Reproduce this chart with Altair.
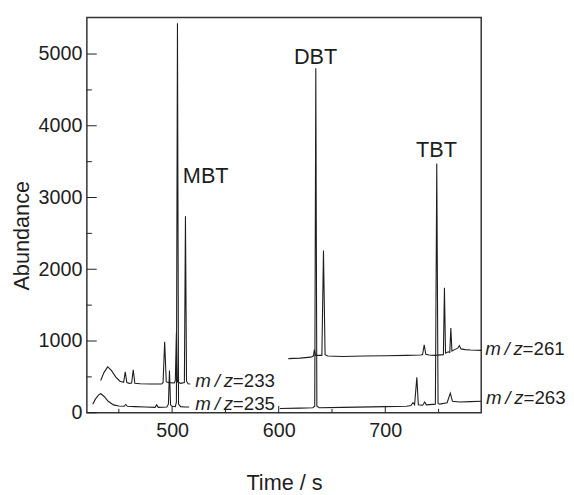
import altair as alt
import pandas as pd

# ---- data ----
t233 = [433, 436, 439.5, 443, 447, 451, 454.5, 456, 457.5, 460, 462, 463.5, 465, 470, 480, 490, 491.5, 493, 494.5, 497, 502, 503, 504, 505, 508, 511.5, 512.5, 513.5, 515, 517]
a233 = [450, 560, 640, 590, 500, 440, 425, 570, 420, 410, 415, 600, 410, 405, 400, 400, 420, 990, 430, 420, 415, 450, 1120, 430, 410, 420, 2740, 440, 405, 400]

t235 = [425.5, 428, 431, 433, 436, 440, 445, 450, 455, 456.5, 458, 465, 475, 484, 485.5, 487, 495, 496.5, 497.5, 498.5, 500, 503, 504, 505, 506, 508, 512, 516]
a235 = [120, 190, 250, 265, 230, 160, 110, 95, 90, 115, 90, 85, 80, 75, 110, 75, 80, 120, 590, 110, 90, 85, 150, 5430, 120, 85, 80, 80]

t261 = [609, 620, 630, 632.5, 633.5, 634.5, 640.5, 642, 643.5, 646, 660, 680, 700, 720, 733, 735, 736.5, 738, 741, 746, 754.5, 755.5, 756.5, 759, 760.5, 761.5, 762.5, 765, 768, 769.5, 771, 775, 780, 790]
a261 = [755, 762, 775, 790, 880, 800, 800, 2260, 810, 790, 785, 790, 795, 800, 805, 810, 946, 815, 805, 800, 810, 1742, 830, 850, 840, 1180, 860, 880, 900, 937, 890, 880, 875, 870]

t263 = [601, 620, 632, 633.8, 634.8, 635.8, 638, 660, 700, 720, 724, 726, 727.5, 729.6, 731, 735, 737, 738.5, 747, 748.3, 749.5, 751, 758, 761, 763, 770, 780, 790]
a263 = [60, 65, 70, 90, 4800, 90, 70, 75, 85, 90, 100, 140, 110, 494, 110, 105, 150, 110, 120, 3475, 130, 120, 140, 274, 160, 150, 155, 160]

peak_names = ["MBT", "DBT", "TBT"]
peak_t = [531.5, 634.6, 748]
peak_a = [3196, 4856, 3567]

ion_names = ["=233", "=235", "=261", "=263"]
ion_t = [521.8, 521.8, 793.7, 794.5]
ion_a = [440, 123, 892, 206]

y_major = [0, 1000, 2000, 3000, 4000, 5000]
y_minor = [500, 1500, 2500, 3500, 4500]
x_major = [500, 600, 700]
x_minor = [450, 550, 650, 750]

X_DOM = [420, 790]
Y_DOM = [0, 5510]
W, H = 400, 401
FONT = "Liberation Sans"
INK = "#1e1e1e"

rows = []
for name, ts, As in [("233", t233, a233), ("235", t235, a235), ("261", t261, a261), ("263", t263, a263)]:
    for t, a in zip(ts, As):
        rows.append({"ion": name, "t": t, "a": a})
traces = pd.DataFrame(rows)

xs = alt.Scale(domain=X_DOM, nice=False, zero=False)
ys = alt.Scale(domain=Y_DOM, nice=False, zero=False)

base_x = alt.X("t:Q", scale=xs, title="Time / s",
               axis=alt.Axis(values=x_major, ticks=False, domain=False, grid=False,
                             labelFontSize=20, labelFont=FONT, labelColor=INK, labelPadding=8,
                             titleFontSize=22, titleFont=FONT, titleFontWeight="normal",
                             titleColor=INK, titlePadding=33, format="d"))
base_y = alt.Y("a:Q", scale=ys, title="Abundance",
               axis=alt.Axis(values=y_major, ticks=False, domain=False, grid=False,
                             labelFontSize=20, labelFont=FONT, labelColor=INK, labelPadding=5,
                             titleFontSize=22, titleFont=FONT, titleFontWeight="normal",
                             titleColor=INK, titlePadding=5, titleY=221, format="d"))

lines = alt.Chart(traces).mark_line(clip=True, color=INK, strokeWidth=1.1).encode(
    x=base_x, y=base_y, detail="ion:N")

ymaj = alt.Chart(pd.DataFrame({"a": y_major})).mark_rule(color=INK, strokeWidth=1).encode(
    y=alt.Y("a:Q", scale=ys), x=alt.value(0), x2=alt.value(10))
ymin = alt.Chart(pd.DataFrame({"a": y_minor})).mark_rule(color=INK, strokeWidth=1).encode(
    y=alt.Y("a:Q", scale=ys), x=alt.value(0), x2=alt.value(5))
xmaj = alt.Chart(pd.DataFrame({"t": x_major})).mark_rule(color=INK, strokeWidth=1).encode(
    x=alt.X("t:Q", scale=xs), y=alt.value(H), y2=alt.value(H - 7))
xmin = alt.Chart(pd.DataFrame({"t": x_minor})).mark_rule(color=INK, strokeWidth=1).encode(
    x=alt.X("t:Q", scale=xs), y=alt.value(H), y2=alt.value(H - 4))

peaks = alt.Chart(pd.DataFrame({"name": peak_names, "t": peak_t, "a": peak_a})).mark_text(
    font=FONT, fontSize=22, color=INK, align="center", baseline="alphabetic").encode(
    x=alt.X("t:Q", scale=xs), y=alt.Y("a:Q", scale=ys), text="name:N")

ion_df = pd.DataFrame({"name": ion_names, "t": ion_t, "a": ion_a})
ion_mz = alt.Chart(ion_df).mark_text(
    font=FONT, fontSize=19, fontStyle="italic", color=INK, align="left", baseline="middle").encode(
    x=alt.X("t:Q", scale=xs), y=alt.Y("a:Q", scale=ys), text=alt.value("m\u2009/\u2009z"))
ion_num = alt.Chart(ion_df).mark_text(
    font=FONT, fontSize=19, color=INK, align="left", baseline="middle", dx=38).encode(
    x=alt.X("t:Q", scale=xs), y=alt.Y("a:Q", scale=ys), text="name:N")

chart = alt.layer(lines, ymaj, ymin, xmaj, xmin, peaks, ion_mz, ion_num).properties(
    width=W, height=H,
    autosize=alt.AutoSizeParams(type="none"),
    padding={"left": 80, "right": 86, "top": 6, "bottom": 90},
).configure(background="white").configure_view(stroke="#333", strokeWidth=1.5)

chart.save("out.html", embed_options={"renderer": "svg", "actions": False})
